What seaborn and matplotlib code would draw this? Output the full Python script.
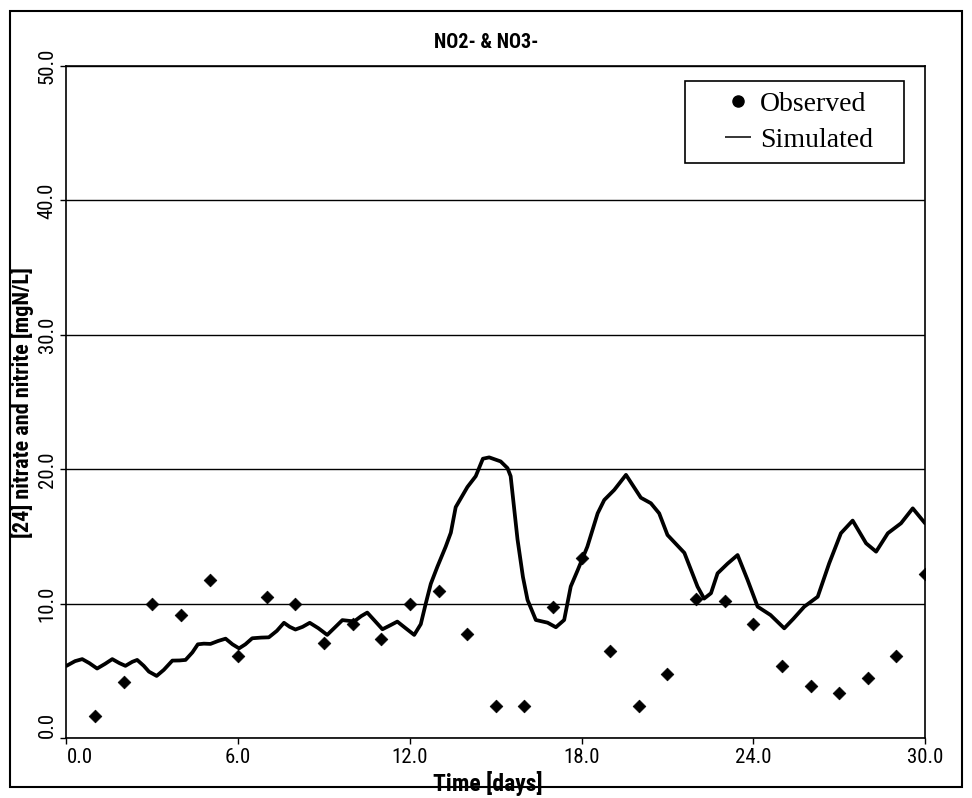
import matplotlib
matplotlib.use("Agg")
import matplotlib.pyplot as plt
import seaborn as sns
import pandas as pd
from matplotlib import font_manager
from matplotlib.lines import Line2D
from matplotlib.patches import Rectangle

# ---------------- data ----------------
title = "NO2- & NO3-"
x_label = "Time [days]"
y_label = "[24] nitrate and nitrite [mgN/L]"
legend_labels = ["Observed", "Simulated"]

obs_days = list(range(1, 31))
obs_values = [1.7, 4.2, 10.0, 9.2, 11.8, 6.1, 10.5, 10.0, 7.1, 8.5,
              7.4, 10.0, 11.0, 7.8, 2.4, 2.4, 9.8, 13.4, 6.5, 2.4,
              4.8, 10.4, 10.2, 8.5, 5.4, 3.9, 3.4, 4.5, 6.1, 12.2]

sim_days = [0.0, 0.3, 0.55, 0.8, 1.07, 1.35, 1.6, 1.85, 2.06, 2.3,
            2.47, 2.7, 2.88, 3.15, 3.4, 3.7, 3.95, 4.16, 4.4, 4.59,
            4.8, 5.03, 5.3, 5.56, 5.8, 6.03, 6.25, 6.49, 6.8, 7.07,
            7.35, 7.6, 7.8, 8.0, 8.25, 8.5, 8.8, 9.11, 9.4, 9.64,
            9.85, 10.05, 10.3, 10.51, 10.75, 11.04, 11.3, 11.56, 11.85, 12.15,
            12.38, 12.55, 12.73, 12.96, 13.25, 13.43, 13.6, 14.01, 14.3, 14.55,
            14.77, 15.17, 15.41, 15.52, 15.76, 15.95, 16.11, 16.4, 16.81, 17.1,
            17.39, 17.62, 17.86, 18.2, 18.56, 18.79, 19.14, 19.55, 20.07, 20.42,
            20.71, 21.0, 21.59, 22.05, 22.28, 22.52, 22.75, 23.1, 23.45, 23.8,
            24.15, 24.6, 25.08, 25.4, 25.78, 26.25, 26.65, 27.06, 27.47, 27.94,
            28.29, 28.7, 29.16, 29.57, 30.0]
sim_values = [5.4, 5.75, 5.9, 5.6, 5.2, 5.55, 5.9, 5.6, 5.4, 5.7,
              5.84, 5.4, 4.97, 4.65, 5.1, 5.79, 5.8, 5.84, 6.4, 7.0,
              7.05, 7.03, 7.25, 7.42, 7.0, 6.7, 7.0, 7.45, 7.5, 7.52,
              8.0, 8.6, 8.3, 8.1, 8.3, 8.6, 8.2, 7.7, 8.3, 8.8,
              8.75, 8.7, 9.1, 9.36, 8.8, 8.12, 8.4, 8.69, 8.2, 7.7,
              8.5, 10.0, 11.5, 12.77, 14.26, 15.3, 17.2, 18.7, 19.5, 20.8,
              20.9, 20.6, 20.1, 19.5, 14.8, 12.0, 10.3, 8.81, 8.61, 8.27,
              8.81, 11.3, 12.5, 14.26, 16.74, 17.73, 18.48, 19.6, 17.9, 17.49,
              16.74, 15.13, 13.8, 11.29, 10.4, 10.8, 12.28, 13.0, 13.64, 11.78,
              9.8, 9.18, 8.19, 8.9, 9.8, 10.54, 13.02, 15.26, 16.2, 14.51,
              13.89, 15.26, 16.0, 17.11, 16.0]

x_ticks = [0, 6, 12, 18, 24, 30]
y_ticks = [0, 10, 20, 30, 40, 50]

obs_df = pd.DataFrame({"day": obs_days, "value": obs_values})
sim_df = pd.DataFrame({"day": sim_days, "value": sim_values})

# ---------------- style ----------------
sns.set_style("white")
names = {f.name for f in font_manager.fontManager.ttflist}
sans = [n for n in ["Roboto Condensed", "PT Sans Narrow", "Liberation Sans"] if n in names]
serif = "Liberation Serif" if "Liberation Serif" in names else "DejaVu Serif"
plt.rcParams["font.family"] = sans + ["DejaVu Sans"]
for k in ["text.color", "axes.labelcolor", "xtick.color", "ytick.color"]:
    plt.rcParams[k] = "black"

fig = plt.figure(figsize=(9.72, 7.98), dpi=100)
ax = fig.add_axes([0.0684, 0.0746, 0.8833, 0.8427])

sns.lineplot(data=sim_df, x="day", y="value", color="black", linewidth=2.7,
             sort=False, estimator=None, ax=ax, zorder=3)
sns.scatterplot(data=obs_df, x="day", y="value", marker="D", s=42,
                color="black", edgecolor="black", linewidth=0.5, ax=ax, zorder=4)

ax.set_xlim(0, 30)
ax.set_ylim(0, 50)
ax.set_xticks(x_ticks)
xt = ax.set_xticklabels([f"{v:.1f}" for v in x_ticks], fontsize=15)
xt[0].set_horizontalalignment("left")
ax.set_yticks(y_ticks)
yt = ax.set_yticklabels([f"{v:.1f}" for v in y_ticks], fontsize=15, rotation=90, va="center")
yt[0].set_verticalalignment("bottom")
ax.tick_params(axis="both", direction="out", length=4, width=1, color="black",
               left=True, bottom=True, pad=3)
ax.yaxis.grid(True, color="black", linewidth=1.0)
ax.xaxis.grid(False)
ax.set_axisbelow(True)
for sp in ax.spines.values():
    sp.set_visible(True)
    sp.set_color("black")
    sp.set_linewidth(1.2)

ax.set_xlabel(x_label, fontsize=17, fontweight="bold")
ax.xaxis.set_label_coords(0.491, -0.049)
ax.set_ylabel(y_label, fontsize=16, fontweight="bold")
ax.yaxis.set_label_coords(-0.038, 0.5)
ax.set_title(title, fontsize=14.5, fontweight="bold", pad=13, x=0.489)

handles = [Line2D([], [], marker="o", linestyle="none", color="black", markersize=8),
           Line2D([], [], marker="_", linestyle="none", color="black",
                  markersize=19, markeredgewidth=1.1)]
leg = ax.legend(handles, legend_labels, loc="upper left",
                bbox_to_anchor=(0.7204, 0.878, 0.2551, 0.1), mode="expand",
                borderaxespad=0,
                prop={"family": serif, "size": 20}, frameon=True,
                fancybox=False, framealpha=1, edgecolor="black",
                handlelength=3.05, handletextpad=-0.73, borderpad=0.38,
                labelspacing=0.38)
leg.get_frame().set_linewidth(1.2)

# outer figure border
fig.patches.append(Rectangle((10 / 972, 11 / 798), 952 / 972, 776 / 798,
                             transform=fig.transFigure, fill=False,
                             edgecolor="black", linewidth=1.5))

fig.savefig("out.png", dpi=100)
